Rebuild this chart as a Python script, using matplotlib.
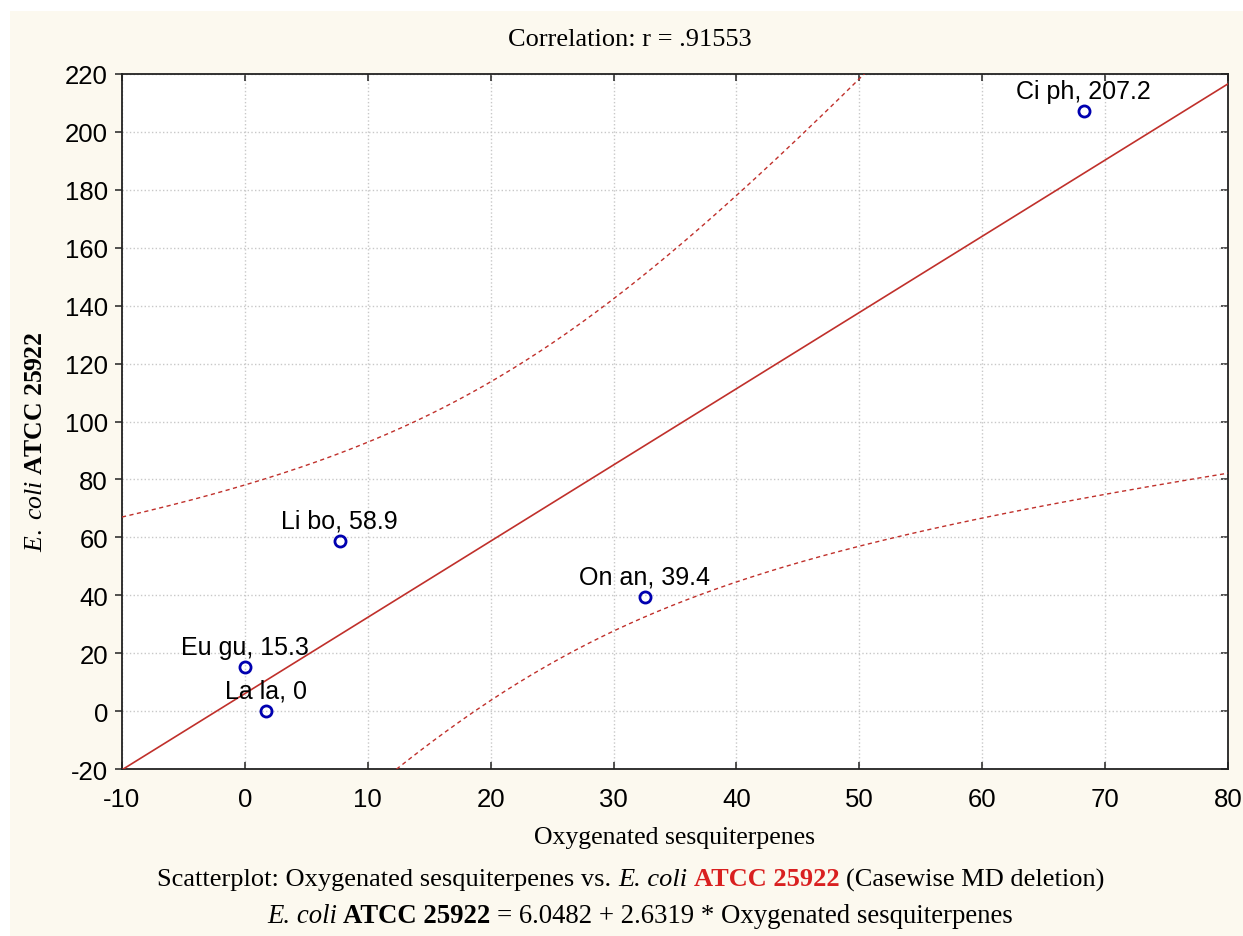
import numpy as np
import matplotlib
matplotlib.use('Agg')
import matplotlib.pyplot as plt
from matplotlib.patches import Rectangle

# dados
amostras = ['Eu gu', 'La la', 'Li bo', 'On an', 'Ci ph']
oxig_sesq = [0.0, 1.74, 7.71, 32.54, 68.27]
ecoli = [15.3, 0.0, 58.9, 39.4, 207.2]

# reta de regressao (da legenda)
intercepto = 6.0482
inclinacao = 2.6319
r_corr = '.91553'
t_crit = 3.182446  # t(0.975, gl=3)

W, H = 1243, 937
fundo = '#FCF9EF'
vermelho_reta = '#C0302B'

plt.rcParams['mathtext.fontset'] = 'custom'
plt.rcParams['mathtext.rm'] = 'Liberation Serif'
plt.rcParams['mathtext.it'] = 'Liberation Serif:italic'
plt.rcParams['mathtext.bf'] = 'Liberation Serif:bold'
plt.rcParams['axes.unicode_minus'] = False

fig = plt.figure(figsize=(W / 100, H / 100), dpi=100)
fig.patch.set_facecolor('white')
fig.patches.append(Rectangle((10 / W, 0), 1, 1 - 12 / H, transform=fig.transFigure,
                             facecolor=fundo, edgecolor='none', zorder=-10))

ax = fig.add_axes([122 / W, 1 - 770 / H, (1228 - 122) / W, (770 - 75) / H])
ax.set_facecolor('white')

x = np.array(oxig_sesq)
y = np.array(ecoli)

# reta e faixas de confianca 95%
xs = np.linspace(-10, 80, 400)
yhat = intercepto + inclinacao * xs
resid = y - (intercepto + inclinacao * x)
n = len(x)
s = np.sqrt(np.sum(resid ** 2) / (n - 2))
sxx = np.sum((x - x.mean()) ** 2)
meia = t_crit * s * np.sqrt(1 / n + (xs - x.mean()) ** 2 / sxx)

ax.plot(xs, yhat, color=vermelho_reta, lw=1.2, zorder=3)
ax.plot(xs, yhat + meia, color=vermelho_reta, lw=1.0, ls=(0, (3, 2.5)), zorder=3)
ax.plot(xs, yhat - meia, color=vermelho_reta, lw=1.0, ls=(0, (3, 2.5)), zorder=3)

ax.plot(x, y, 'o', mfc='none', mec='#0000B0', mew=2, ms=8, zorder=4)
for nome, xi, yi in zip(amostras, x, y):
    ax.annotate(f'{nome}, {yi:g}', (xi, yi), xytext=(0, 9.5), textcoords='offset points',
                ha='center', va='baseline', fontsize=18, family='Liberation Sans', zorder=5)

ax.set_xlim(-10, 80)
ax.set_ylim(-20, 220)
ax.set_xticks(range(-10, 81, 10))
ax.set_yticks(range(-20, 221, 20))
ax.grid(True, color='#C8C8C8', ls=':', lw=1)
ax.set_axisbelow(True)
for sp in ax.spines.values():
    sp.set_linewidth(1.3)
    sp.set_color('#222222')

ax.tick_params(axis='both', labelsize=18.5, length=5, width=1.1, color='#222222')
ax.tick_params(axis='x', direction='in', top=True, pad=13)
ax.tick_params(axis='y', direction='out', right=False, pad=5)
for lab in ax.get_xticklabels() + ax.get_yticklabels():
    lab.set_family('Liberation Sans')
# ticks do lado direito para dentro
ax2 = ax.secondary_yaxis('right')
ax2.set_yticks(range(-20, 221, 20))
ax2.tick_params(direction='in', length=5, width=1.1, color='#222222', labelright=False)
ax2.spines['right'].set_visible(False)


def px(xp, yp):
    return xp / W, 1 - yp / H


fig.text(*px(630, 40), f'Correlation: r = {r_corr}', ha='center', va='center',
         fontsize=19, family='Liberation Serif')
fig.text(*px(674, 838), 'Oxygenated sesquiterpenes', ha='center', va='center',
         fontsize=18.5, family='Liberation Serif')
fig.text(*px(35, 442), r'$\mathit{E.\ coli}\ \mathbf{ATCC\ 25922}$', rotation=90,
         ha='center', va='center', fontsize=18.5)


def linha_rica(cx, cy, partes, tam=19):
    rend = fig.canvas.get_renderer()
    objs = []
    for txt, kw in partes:
        objs.append(fig.text(0, 1 - cy / H, txt, fontsize=tam, family='Liberation Serif',
                             ha='left', va='center', **kw))
    larg = [t.get_window_extent(rend).width for t in objs]
    gap = 0.25 * tam * 100 / 72
    total = sum(larg) + gap * (len(objs) - 1)
    xp = cx - total / 2
    for t, w in zip(objs, larg):
        t.set_x(xp / W)
        xp += w + gap


linha_rica(631, 880, [('Scatterplot: Oxygenated sesquiterpenes vs.', {}),
                      ('E. coli', {'style': 'italic'}),
                      ('ATCC 25922', {'weight': 'bold', 'color': '#D92020'}),
                      ('(Casewise MD deletion)', {})])
linha_rica(640, 917, [('E. coli', {'style': 'italic'}),
                      ('ATCC 25922', {'weight': 'bold'}),
                      (f'= {intercepto} + {inclinacao} * Oxygenated sesquiterpenes', {})], tam=19.3)

fig.savefig('out.png', dpi=100, facecolor=fig.get_facecolor())
